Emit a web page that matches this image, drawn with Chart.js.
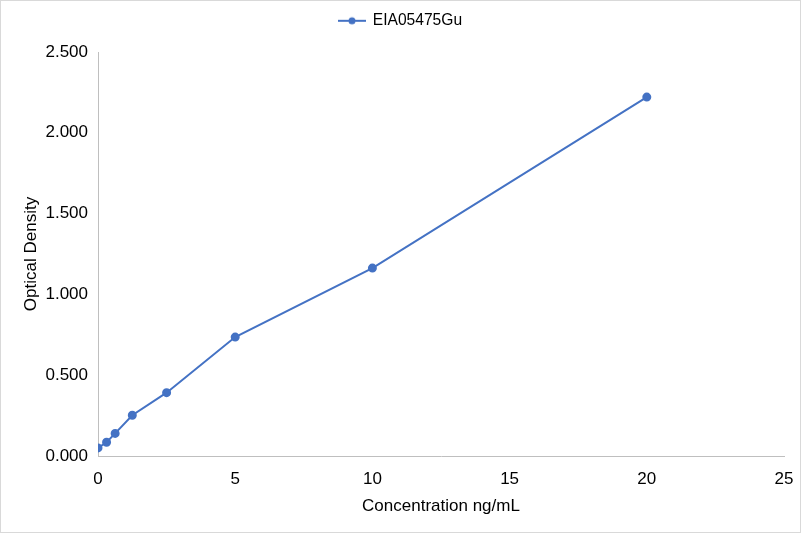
<!DOCTYPE html>
<html><head><meta charset="utf-8">
<script src="https://cdn.jsdelivr.net/npm/chart.js@4.4.0/dist/chart.umd.min.js"></script>
<style>
html,body{margin:0;padding:0;background:#fff;}
#wrap{position:absolute;left:0;top:0;width:799px;height:531px;border:1px solid #d9d9d9;}
</style></head>
<body><div id="wrap"><canvas id="c" width="799" height="531"></canvas></div>
<script>
const seriesName = "EIA05475Gu";
const concentrations = [0, 0.3125, 0.625, 1.25, 2.5, 5, 10, 20];
const odValues = [0.050, 0.085, 0.140, 0.252, 0.392, 0.736, 1.163, 2.221];
const xTitle = "Concentration ng/mL";
const yTitle = "Optical Density";

const lineColor = "#4472c4";
const icon = document.createElement('canvas');
icon.width = 28; icon.height = 10;
(function(){
  const g = icon.getContext('2d');
  g.strokeStyle = lineColor; g.lineWidth = 2;
  g.beginPath(); g.moveTo(0,5); g.lineTo(28,5); g.stroke();
  g.fillStyle = lineColor; g.beginPath(); g.arc(14,5,3.5,0,Math.PI*2); g.fill();
})();

const legendHeightPlugin = {
  id:'legendHeight',
  beforeUpdate(chart){
    const lg = chart.legend;
    if (lg && !lg._patched){
      const orig = lg.fit;
      lg.fit = function(){ orig.call(this); this.height = 51 - (this.top||0); };
      lg._patched = true;
    }
  }
};

const pts = concentrations.map((x,i)=>({x:x,y:odValues[i]}));
const font = {family:"'Liberation Sans', Arial, sans-serif", size:17};
const legendFont = {family:"'Liberation Sans', Arial, sans-serif", size:15.6};
const txt = '#000000';
new Chart(document.getElementById('c'), {
  type:'scatter',
  data:{datasets:[{label:seriesName,data:pts,showLine:true,borderColor:lineColor,backgroundColor:lineColor,borderWidth:2,pointRadius:3.5,pointHoverRadius:3.5,pointStyle:'circle'}]},
  plugins:[legendHeightPlugin],
  options:{
    responsive:false, animation:false,
    layout:{padding:{left:16,right:16,top:0,bottom:0}},
    plugins:{
      legend:{position:'top',labels:{usePointStyle:true,pointStyle:icon,pointStyleWidth:26,color:txt,font:legendFont,boxWidth:26,padding:12,
        generateLabels:(chart)=>[{text:seriesName,pointStyle:icon,fillStyle:lineColor,strokeStyle:lineColor,lineWidth:0,datasetIndex:0,fontColor:txt}]}},
      tooltip:{enabled:false}
    },
    scales:{
      x:{type:'linear',min:0,max:25,
        ticks:{stepSize:5,color:txt,font:font,padding:13},
        grid:{display:false,drawTicks:false},
        border:{display:true,color:'#bfbfbf',width:1},
        title:{display:true,text:xTitle,color:txt,font:font,padding:{top:4,bottom:15}},
        afterFit:(s)=>{s.height=76; s.paddingRight=0; s.paddingLeft=0;}
      },
      y:{type:'linear',min:0,max:2.5,
        ticks:{stepSize:0.5,color:txt,font:font,padding:10,callback:(v)=>v.toFixed(3)},
        grid:{display:false,drawTicks:false},
        border:{display:true,color:'#bfbfbf',width:1},
        title:{display:true,text:yTitle,color:txt,font:font,padding:{bottom:4}},
        afterFit:(s)=>{s.width=81;}
      }
    }
  }
});
</script></body></html>
